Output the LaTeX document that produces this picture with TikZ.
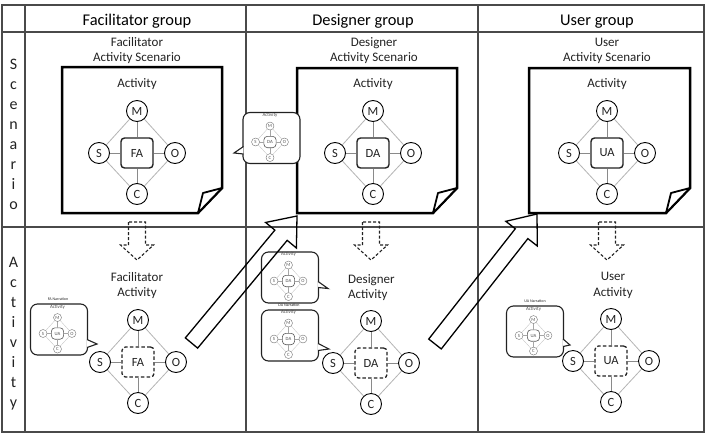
\documentclass[tikz,border=0pt]{standalone}
\usepackage{fontspec}
\setmainfont{Carlito}
\usetikzlibrary{calc}

\definecolor{gridline}{HTML}{4A4A4A}
\definecolor{ink}{HTML}{222222}
\definecolor{spokegray}{HTML}{8A8A8A}
\definecolor{diamgray}{HTML}{B4B4B4}

\tikzset{
  grid/.style={draw=gridline, line width=1.3pt},
  headtext/.style={font=\fontsize{16.4}{19}\selectfont, text=black, inner sep=0pt, anchor=base},
  sidetext/.style={font=\fontsize{16}{20}\selectfont, text=ink, inner sep=0pt, align=center},
  label13/.style={font=\fontsize{13}{15}\selectfont, text=ink, inner sep=0pt, anchor=base},
  tinytext/.style={font=\fontsize{4}{5}\selectfont, text=ink, inner sep=0pt},
  note/.style={draw=black, line width=2.5pt, fill=white, line join=miter},
  flap/.style={draw=black, line width=1.8pt, line join=round, fill=white},
  ring/.style={circle, draw=black, line width=0.9pt, fill=white, minimum size=21pt,
    inner sep=0pt, font=\fontsize{12.5}{14}\selectfont, text=ink},
  core/.style={rectangle, rounded corners=3.5pt, draw=ink, line width=1.4pt, fill=white,
    minimum width=32pt, minimum height=30pt, inner sep=0pt,
    font=\fontsize{12.5}{14}\selectfont, text=ink},
  coredash/.style={dash pattern=on 3.5pt off 2.2pt, line width=1.3pt},
  spoke/.style={draw=spokegray, line width=0.9pt},
  diam/.style={draw=diamgray, line width=0.8pt},
  bubble/.style={rectangle, rounded corners=7pt, draw=ink, line width=1.1pt, fill=white,
    minimum width=57pt, minimum height=51pt, inner sep=0pt},
  tail/.style={draw=ink, line width=1.1pt, fill=white, line join=miter},
  minipic/.style={scale=0.38, transform shape,
    ring/.append style={line width=0.4pt, draw=black!55, text=black!65},
    core/.append style={line width=0.6pt, draw=black!65, text=black!70},
    spoke/.append style={line width=0.35pt, draw=black!35},
    diam/.append style={line width=0.3pt, draw=black!25},
    label13/.append style={text=black!70}},
  fatarrow/.style={draw=black, line width=1.3pt, line join=miter},
  hollowdash/.style={draw=ink, line width=1.1pt, dash pattern=on 3pt off 2pt},
  % activity model: mediator in the centre, M/S/O/C around it
  pics/actdiag/.style n args={3}{code={
    \node[ring] (-M) at (0,-42) {M};
    \node[ring] (-S) at (-38,0) {S};
    \node[ring] (-O) at (38,0) {O};
    \node[ring] (-C) at (0,41) {C};
    \node[core,#2] (-X) at (0,0) {#1};
    \draw[diam] (-M) -- (-O) -- (-C) -- (-S) -- (-M);
    \draw[spoke] (-M) -- (-X) (-S) -- (-X) (-O) -- (-X) (-C) -- (-X);
    \def\acttitle{#3}%
    \ifx\acttitle\empty\else\node[label13] (-T) at (0,-66) {#3};\fi
  }}
}

% sticky note with a folded lower right corner
\newcommand\stickynote[4]{%
  \draw[note] (#1,#2) -- (#3,#2) -- (#3,#4-25) -- (#3-24,#4) -- (#1,#4) -- cycle;
  \draw[flap] (#3,#4-25) -- (#3-19,#4-20) -- (#3-24,#4) -- cycle;}

% hollow dashed downward arrow hanging from a named coordinate
\newcommand\hollowdown[1]{%
  \draw[hollowdash] (#1) ++(-8.5,0) -- ++(0,23) -- ++(-8,0) -- ++(16.5,15)
    -- ++(16.5,-15) -- ++(-8,0) -- ++(0,-23) -- cycle;}

% hollow block arrow from #1 (tail) to #2 (tip), #3 = helper coordinate name
\newcommand\blockarrow[3]{%
  \coordinate (#3) at ($(#2)!25pt!(#1)$);
  \draw[fatarrow] ($(#1)!8pt!90:(#2)$) -- ($(#3)!8pt!-90:(#1)$) -- ($(#3)!20pt!-90:(#1)$)
    -- (#2) -- ($(#3)!20pt!90:(#1)$) -- ($(#3)!8pt!90:(#1)$) -- ($(#1)!8pt!-90:(#2)$) -- cycle;}

\begin{document}
\begin{tikzpicture}[x=1pt,y=-1pt]
\useasboundingbox (0,0) rectangle (706,434);

% table
\draw[grid] (2,5) rectangle (704,432);
\draw[grid] (2,32) -- (704,32);
\draw[grid] (2,227) -- (704,227);
\draw[grid] (25,5) -- (25,432);
\draw[grid] (246,5) -- (246,432);
\draw[grid] (478,5) -- (478,432);

% column headers
\node[headtext] (hF) at (137,25.5) {Facilitator group};
\node[headtext] (hD) at (363,25.5) {Designer group};
\node[headtext] (hU) at (597,25.5) {User group};

% row headers
\node[sidetext] (rowS) at (13.5,134) {S\\c\\e\\n\\a\\r\\i\\o};
\node[sidetext] (rowA) at (13.5,334) {A\\c\\t\\i\\v\\i\\t\\y};

% scenario row
\node[label13] (tF1) at (137,46) {Facilitator};
\node[label13] (tF2) at (137,61) {Activity Scenario};
\node[label13] (tD1) at (374,46) {Designer};
\node[label13] (tD2) at (374,61) {Activity Scenario};
\node[label13] (tU1) at (607,46) {User};
\node[label13] (tU2) at (607,61) {Activity Scenario};

\stickynote{62}{67}{222}{213}
\stickynote{297}{68}{457}{213}
\stickynote{529}{68}{690}{213}

\pic (sF) at (137,153) {actdiag={FA}{solid}{Activity}};
\pic (sD) at (373,153) {actdiag={DA}{solid}{Activity}};
\pic (sU) at (607,153) {actdiag={UA}{solid}{Activity}};

% callout beside the designer scenario
\node[bubble] (bS) at (271.5,138) {};
\coordinate (tipS) at (234,153);
\draw[tail] ($(bS.west)+(1,8.5)$) -- (tipS) -- ($(bS.west)+(1,16)$);
\pic[minipic] (mS) at (270,142) {actdiag={DA}{solid}{Activity}};

% activity row
\coordinate (dF) at (137,222);
\coordinate (dD) at (371,222);
\coordinate (dU) at (607,222);
\hollowdown{dF}
\hollowdown{dD}
\hollowdown{dU}

\node[label13] (aF1) at (137,281) {Facilitator};
\node[label13] (aF2) at (137,296.5) {Activity};
\node[label13, anchor=base west] (aD1) at (348,283) {Designer};
\node[label13, anchor=base west] (aD2) at (348,298) {Activity};
\node[label13] (aU1) at (613,280.5) {User};
\node[label13] (aU2) at (613,296) {Activity};

\pic (aF) at (138,362) {actdiag={FA}{coredash}{}};
\pic (aD) at (371,363) {actdiag={DA}{coredash}{}};
\pic (aU) at (611,361) {actdiag={UA}{coredash}{}};

% facilitator narration callout
\node[tinytext] (nF) at (58,299) {FA Narration};
\node[bubble] (bF) at (59,329.5) {};
\coordinate (tipF) at (97,344);
\draw[tail] ($(bF.east)+(-1,10)$) -- (tipF) -- ($(bF.east)+(-1,18)$);
\pic[minipic] (mF) at (57.5,333.5) {actdiag={UA}{solid}{Activity}};

% designer callouts
\node[tinytext] (nD) at (289,305) {DA Narration};
\node[bubble] (bD2) at (290,335.5) {};
\coordinate (tipD2) at (329,349);
\draw[tail] ($(bD2.east)+(-1,8)$) -- (tipD2) -- ($(bD2.east)+(-1,15)$);
\pic[minipic] (mD2) at (288.5,339) {actdiag={DA}{solid}{Activity}};

\node[bubble] (bD1) at (290,277.5) {};
\coordinate (tipD1) at (328,288.5);
\draw[tail] ($(bD1.east)+(-1,4)$) -- (tipD1) -- ($(bD1.east)+(-1,10)$);
\pic[minipic] (mD1) at (288.5,281) {actdiag={DA}{solid}{Activity}};

% user narration callout
\node[tinytext] (nU) at (535,301) {UA Narration};
\node[bubble] (bU) at (535,331.5) {};
\coordinate (tipU) at (570,345);
\draw[tail] ($(bU.east)+(-1,7.5)$) -- (tipU) -- ($(bU.east)+(-1,15)$);
\pic[minipic] (mU) at (533.5,335.5) {actdiag={UA}{solid}{Activity}};

% hand-over arrows between groups
\coordinate (arT1) at (191.5,343);
\coordinate (arP1) at (297,216);
\blockarrow{arT1}{arP1}{arJ1}
\coordinate (arT2) at (435,344);
\coordinate (arP2) at (537,214);
\blockarrow{arT2}{arP2}{arJ2}
\end{tikzpicture}
\end{document}
